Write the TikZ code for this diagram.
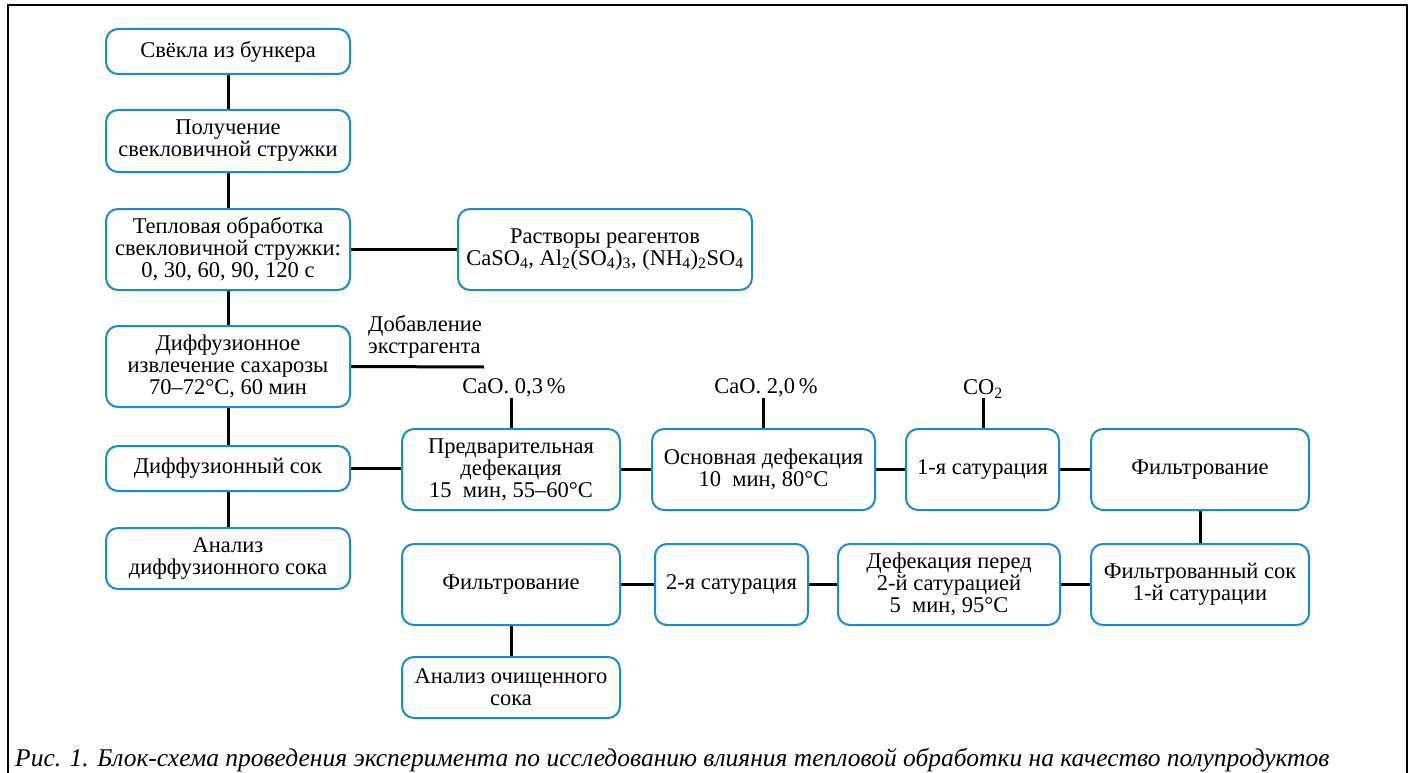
\documentclass[tikz,border=0pt]{standalone}
\usepackage{fontspec}
\setmainfont{Liberation Serif}
\definecolor{boxblue}{HTML}{1C8AD0}
\newcommand{\bxfont}{\fontsize{22.5}{22}\selectfont}
\newcommand{\capfont}{\fontsize{25.5}{25.5}\selectfont\itshape}
\begin{document}
\begin{tikzpicture}[x=1pt,y=-1pt,
  bx/.style={draw=boxblue, line width=2pt, rounded corners=12pt, align=center,
    font=\bxfont, inner sep=0pt, minimum width=#1},
  lbl/.style={font=\bxfont, inner sep=0pt},
  conn/.style={draw=black, line width=3pt}]
\useasboundingbox (0,0) rectangle (1415,773);
\draw[line width=2pt] (8,773) -- (8,5) -- (1407,5) -- (1407,773);

\node[bx=244pt, minimum height=45pt] (b1) at (228,51.5) {Свёкла из бункера};
\node[bx=244pt, minimum height=62pt] (b2) at (228,141) {Получение\\свекловичной стружки};
\node[bx=244pt, minimum height=81pt] (b3) at (228,249.5) {Тепловая обработка\\свекловичной стружки:\\0, 30, 60, 90, 120 с};
\node[bx=294pt, minimum height=81pt] (b4) at (605,249.5) {Растворы реагентов\\CaSO\textsubscript{4}, Al\textsubscript{2}(SO\textsubscript{4})\textsubscript{3}, (NH\textsubscript{4})\textsubscript{2}SO\textsubscript{4}};
\node[bx=244pt, minimum height=81pt] (b5) at (228,366.5) {Диффузионное\\извлечение сахарозы\\70–72°C, 60 мин};
\node[bx=244pt, minimum height=45pt] (b6) at (228,468.5) {Диффузионный сок};
\node[bx=244pt, minimum height=61pt] (b7) at (228,558.5) {Анализ\\диффузионного сока};
\node[bx=218pt, minimum height=81pt] (b8) at (511,469.5) {Предварительная\\дефекация\\15\ \ мин, 55–60°C};
\node[bx=223pt, minimum height=81pt] (b9) at (763.5,469.5) {Основная дефекация\\10\ \ мин, 80°C};
\node[bx=153pt, minimum height=81pt] (b10) at (982.5,469.5) {1-я сатурация};
\node[bx=218pt, minimum height=81pt] (b11) at (1200,469.5) {Фильтрование};
\node[bx=218pt, minimum height=81pt] (b12) at (1200,584.5) {Фильтрованный сок\\1-й сатурации};
\node[bx=222pt, minimum height=81pt] (b13) at (949,584.5) {Дефекация перед\\2-й сатурацией\\5\ \ мин, 95°C};
\node[bx=153pt, minimum height=81pt] (b14) at (731.5,584.5) {2-я сатурация};
\node[bx=218pt, minimum height=81pt] (b15) at (511,584.5) {Фильтрование};
\node[bx=218pt, minimum height=61pt] (b16) at (511,687.5) {Анализ очищенного\\сока};

\node[lbl, align=left, anchor=south west] (ext) at (368,358) {Добавление\\экстрагента};
\coordinate (extend) at (484,367);
\node[lbl] (cao1) at (514,388) {CaO. 0,3\,\%};
\node[lbl] (cao2) at (766,388) {CaO. 2,0\,\%};
\node[lbl] (co2) at (983,389) {CO\textsubscript{2}};
\coordinate (t1) at (511,398);
\coordinate (t2) at (763,398);
\coordinate (t3) at (983,398);

\path[conn] (b1) -- (b2);
\path[conn] (b2) -- (b3);
\path[conn] (b3) -- (b5);
\path[conn] (b5) -- (b6);
\path[conn] (b6) -- (b7);
\path[conn] (b3.east) -- (b4.west);
\path[conn] (b5.east) -- (extend);
\path[conn] (b6.east) -- (b8.west |- b6.east);
\path[conn] (b8.east) -- (b9.west);
\path[conn] (b9.east) -- (b10.west);
\path[conn] (b10.east) -- (b11.west);
\path[conn] (b11) -- (b12);
\path[conn] (b12.west) -- (b13.east);
\path[conn] (b13.west) -- (b14.east);
\path[conn] (b14.west) -- (b15.east);
\path[conn] (b15) -- (b16);
\path[conn] (t1) -- (t1 |- b8.north);
\path[conn] (t2) -- (t2 |- b9.north);
\path[conn] (t3) -- (t3 |- b10.north);

\node[font=\capfont, anchor=base west, inner sep=0pt] (cap) at (15,766) {Рис. 1. Блок-схема проведения эксперимента по исследованию влияния тепловой обработки на качество полупродуктов};
\end{tikzpicture}
\end{document}
